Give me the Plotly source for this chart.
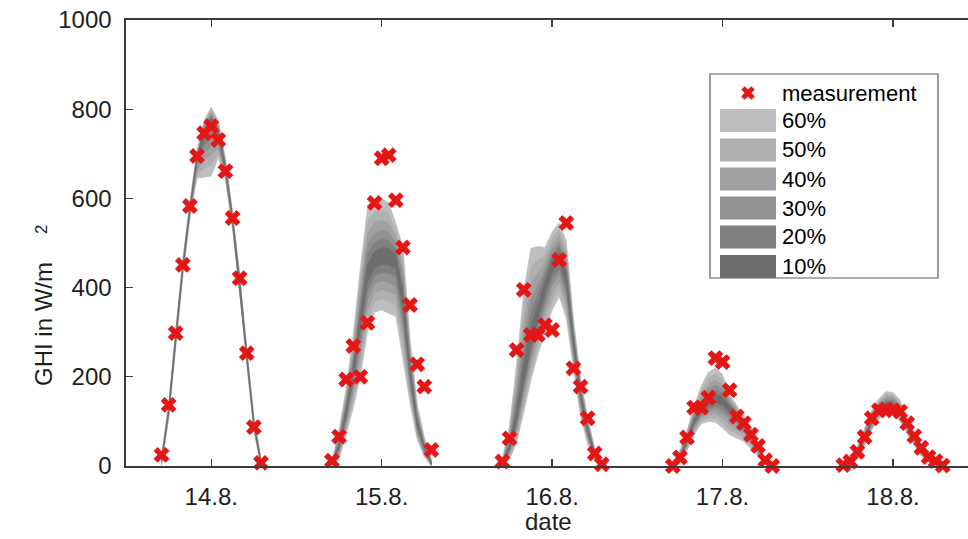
import plotly.graph_objects as go

# ---------------- data ----------------
# time axis: hours counted from 14.8. 00:00 (hourly values, daylight only)
hours = [5, 6, 7, 8, 9, 10, 11, 12, 13, 14, 15, 16, 17, 18, 19,
         29, 30, 31, 32, 33, 34, 35, 36, 37, 38, 39, 40, 41, 42, 43,
         53, 54, 55, 56, 57, 58, 59, 60, 61, 62, 63, 64, 65, 66, 67,
         77, 78, 79, 80, 81, 82, 83, 84, 85, 86, 87, 88, 89, 90, 91,
         101, 102, 103, 104, 105, 106, 107, 108, 109, 110, 111, 112, 113, 114, 115]

ghi_measured = [25, 137, 298, 451, 583, 695, 746, 762, 731, 661, 556, 421, 253, 87, 7,
                12, 66, 194, 269, 200, 321, 590, 690, 697, 596, 490, 361, 228, 178, 36,
                10, 62, 260, 395, 294, 294, 316, 305, 462, 545, 219, 178, 107, 28, 4,
                0, 19, 64, 131, 131, 153, 242, 233, 170, 111, 96, 70, 45, 13, 0,
                2, 10, 32, 65, 107, 125, 127, 125, 122, 96, 67, 41, 20, 11, 1]

# lower / upper bounds of the central prediction intervals
lo60 = [0, 105, 268, 426, 556, 645, 648, 650, 690, 640, 532, 394, 228, 78, 0,
        0, 15, 70, 130, 200, 300, 345, 350, 342, 335, 240, 140, 60, 20, 0,
        0, 15, 50, 120, 190, 250, 300, 350, 380, 330, 215, 110, 50, 10, 0,
        0, 8, 35, 70, 95, 100, 98, 85, 70, 62, 55, 40, 22, 5, 0,
        0, 3, 15, 45, 80, 105, 115, 115, 100, 72, 45, 22, 8, 2, 0]
lo50 = [2, 108, 272, 430, 560, 654, 668, 675, 702, 646, 536, 398, 232, 82, 2,
        1, 21, 80, 146, 224, 326, 368, 374, 368, 360, 266, 154, 67, 24, 1,
        1, 20, 62, 136, 208, 268, 320, 370, 398, 348, 228, 120, 56, 13, 1,
        0, 10, 39, 76, 101, 108, 108, 97, 82, 73, 63, 46, 26, 6, 0,
        0, 4, 18, 49, 84, 109, 120, 120, 104, 76, 48, 24, 9, 3, 0]
lo40 = [5, 111, 276, 434, 564, 662, 686, 698, 712, 651, 540, 402, 236, 85, 3,
        2, 26, 89, 160, 246, 349, 389, 396, 391, 383, 289, 167, 73, 28, 2,
        2, 25, 73, 150, 224, 284, 338, 388, 414, 364, 240, 129, 61, 16, 2,
        1, 13, 43, 81, 106, 115, 118, 108, 93, 82, 70, 51, 29, 8, 1,
        1, 6, 21, 53, 88, 113, 124, 124, 108, 79, 51, 26, 10, 3, 0]
lo30 = [7, 114, 279, 437, 567, 670, 703, 719, 722, 655, 543, 405, 239, 88, 4,
        2, 32, 98, 174, 266, 372, 408, 416, 412, 404, 312, 179, 79, 31, 3,
        3, 29, 83, 164, 240, 300, 355, 405, 430, 380, 251, 138, 67, 18, 3,
        1, 15, 46, 87, 112, 122, 127, 118, 103, 91, 77, 57, 32, 9, 1,
        1, 7, 23, 56, 91, 116, 128, 128, 111, 82, 53, 28, 11, 4, 1]
lo20 = [8, 117, 282, 440, 570, 676, 718, 738, 731, 660, 546, 408, 242, 91, 6,
        3, 36, 105, 186, 284, 391, 426, 434, 432, 423, 331, 189, 85, 34, 4,
        4, 33, 92, 176, 253, 313, 370, 420, 443, 393, 261, 145, 71, 21, 4,
        1, 16, 49, 91, 116, 128, 134, 127, 112, 99, 83, 61, 35, 10, 1,
        1, 8, 26, 59, 94, 119, 131, 131, 114, 85, 56, 29, 12, 4, 1]
lo10 = [10, 119, 285, 443, 573, 683, 733, 756, 739, 664, 549, 411, 245, 93, 7,
        3, 40, 113, 198, 302, 411, 443, 452, 451, 441, 351, 200, 90, 37, 5,
        4, 36, 101, 188, 267, 327, 385, 435, 457, 407, 270, 153, 76, 23, 4,
        2, 18, 52, 96, 121, 134, 142, 136, 121, 107, 89, 66, 37, 11, 2,
        2, 9, 28, 62, 97, 122, 135, 135, 117, 87, 58, 31, 13, 5, 1]
hi10 = [14, 124, 291, 448, 578, 693, 752, 780, 752, 671, 555, 416, 251, 98, 9,
        5, 50, 128, 223, 339, 452, 481, 490, 488, 473, 388, 221, 102, 44, 7,
        7, 48, 128, 229, 311, 363, 414, 461, 481, 433, 288, 166, 85, 27, 6,
        2, 22, 59, 105, 133, 151, 161, 154, 135, 118, 97, 73, 42, 12, 2,
        2, 11, 32, 68, 104, 129, 142, 142, 124, 93, 62, 33, 15, 5, 1]
hi20 = [15, 127, 293, 451, 581, 695, 756, 784, 756, 675, 557, 419, 253, 101, 10,
        6, 56, 137, 236, 358, 474, 501, 509, 506, 486, 406, 233, 109, 48, 9,
        8, 55, 146, 257, 342, 386, 427, 473, 493, 446, 295, 172, 89, 30, 7,
        3, 25, 63, 111, 142, 161, 171, 163, 139, 121, 100, 75, 44, 13, 2,
        3, 12, 35, 71, 108, 133, 147, 146, 128, 95, 64, 34, 16, 6, 2]
hi30 = [16, 129, 296, 453, 583, 698, 760, 789, 760, 678, 560, 421, 256, 103, 12,
        7, 61, 145, 248, 376, 497, 522, 529, 524, 498, 424, 244, 115, 51, 10,
        10, 63, 164, 286, 374, 408, 441, 484, 504, 458, 303, 178, 94, 32, 8,
        3, 27, 66, 116, 150, 172, 182, 172, 144, 124, 102, 78, 45, 13, 2,
        3, 14, 37, 74, 111, 136, 151, 150, 133, 98, 65, 36, 17, 6, 2]
hi40 = [18, 132, 299, 456, 586, 701, 765, 794, 765, 682, 563, 424, 259, 106, 13,
        8, 67, 154, 263, 398, 522, 546, 551, 544, 513, 444, 257, 123, 56, 12,
        11, 71, 184, 318, 409, 434, 456, 497, 517, 473, 311, 185, 99, 34, 9,
        4, 29, 71, 122, 159, 183, 193, 182, 149, 127, 104, 81, 47, 14, 3,
        4, 15, 39, 77, 116, 141, 156, 155, 137, 101, 67, 37, 18, 7, 2]
hi50 = [20, 135, 302, 459, 589, 704, 770, 799, 770, 686, 566, 427, 262, 109, 14,
        9, 73, 164, 278, 420, 548, 570, 574, 566, 528, 466, 270, 131, 60, 13,
        13, 80, 206, 352, 446, 462, 472, 510, 530, 488, 320, 192, 104, 37, 11,
        4, 32, 75, 128, 169, 196, 206, 193, 154, 131, 107, 84, 50, 14, 3,
        4, 16, 42, 81, 120, 145, 161, 160, 142, 104, 70, 38, 19, 7, 3]
hi60 = [22, 138, 305, 462, 592, 708, 775, 805, 775, 690, 570, 430, 265, 112, 16,
        10, 80, 175, 295, 445, 578, 598, 600, 590, 545, 490, 285, 140, 65, 15,
        15, 90, 230, 390, 488, 492, 490, 525, 545, 505, 330, 200, 110, 40, 12,
        5, 35, 80, 135, 180, 210, 220, 205, 160, 135, 110, 88, 52, 15, 3,
        5, 18, 45, 85, 125, 150, 167, 165, 148, 108, 72, 40, 20, 8, 3]

level_names = ["60%", "50%", "40%", "30%", "20%", "10%"]
date_tick_hours = [12, 36, 60, 84, 108]
date_tick_labels = ["14.8.", "15.8.", "16.8.", "17.8.", "18.8."]
y_ticks = [0, 200, 400, 600, 800, 1000]

# ---------------- style ----------------
FONT = "Liberation Sans, Arial, Helvetica, sans-serif"
level_colors = ["rgb(190,190,190)", "rgb(176,176,176)", "rgb(161,161,161)",
                "rgb(145,145,145)", "rgb(128,128,128)", "rgb(110,110,110)"]
RED = "rgb(228,22,22)"
AXIS = "rgb(60,60,60)"
TXT = "rgb(30,30,30)"
W, H = 968, 539
ML, MR, MT, MB = 126, 0, 20, 73
PW, PH = W - ML - MR, H - MT - MB


def px_x(px):
    """page pixel x -> paper coordinate"""
    return (px - ML) / PW


def px_y(py):
    """page pixel y -> paper coordinate"""
    return (H - MB - py) / PH


bands = [(lo60, hi60), (lo50, hi50), (lo40, hi40), (lo30, hi30), (lo20, hi20), (lo10, hi10)]

fig = go.Figure()

# split the series into daylight segments (a gap in hours starts a new day)
segments = []
start = 0
for i in range(1, len(hours) + 1):
    if i == len(hours) or hours[i] - hours[i - 1] > 1:
        segments.append((start, i))
        start = i

for (lo, hi), col in zip(bands, level_colors):
    for a, b in segments:
        xs = hours[a:b]
        fig.add_trace(go.Scatter(
            x=xs + xs[::-1], y=hi[a:b] + lo[a:b][::-1],
            mode="lines", fill="toself", fillcolor=col,
            line=dict(width=0.6, color=col),
            hoverinfo="skip", showlegend=False))

fig.add_trace(go.Scatter(
    x=hours, y=ghi_measured, mode="markers",
    marker=dict(symbol="x", size=14, color=RED, line=dict(width=0)),
    cliponaxis=False, showlegend=False, name="measurement"))

# ---------------- legend (drawn manually) ----------------
shapes = []
annotations = []
shapes.append(dict(type="rect", xref="paper", yref="paper",
                   x0=px_x(710), x1=px_x(938), y0=px_y(278), y1=px_y(74),
                   line=dict(color="rgb(90,90,90)", width=1.2),
                   fillcolor="rgba(0,0,0,0)", layer="above"))
row_centers = [120.5, 150, 179, 208, 237, 266.5]
for name, col, cy in zip(level_names, level_colors, row_centers):
    shapes.append(dict(type="rect", xref="paper", yref="paper",
                       x0=px_x(720), x1=px_x(776), y0=px_y(cy + 11.5), y1=px_y(cy - 11.5),
                       line=dict(width=0), fillcolor=col, layer="above"))
    annotations.append(dict(xref="paper", yref="paper", x=px_x(780), y=px_y(cy),
                            text=name, showarrow=False, xanchor="left", yanchor="middle",
                            font=dict(family=FONT, size=22, color="black")))
annotations.append(dict(xref="paper", yref="paper", x=px_x(780), y=px_y(93),
                        text="measurement", showarrow=False, xanchor="left", yanchor="middle",
                        font=dict(family=FONT, size=22, color="black")))
fig.add_trace(go.Scatter(x=[px_x(748)], y=[px_y(93)], xaxis="x2", yaxis="y2",
                         mode="markers", cliponaxis=False,
                         marker=dict(symbol="x", size=12, color=RED, line=dict(width=0)),
                         hoverinfo="skip", showlegend=False))

# axis titles
annotations.append(dict(xref="paper", yref="paper", x=px_x(548), y=px_y(521),
                        text="date", showarrow=False, xanchor="center", yanchor="middle",
                        font=dict(family=FONT, size=24, color=TXT)))
annotations.append(dict(xref="paper", yref="paper", x=px_x(43), y=px_y(324),
                        text="GHI in W/m", textangle=-90, showarrow=False,
                        xanchor="center", yanchor="middle",
                        font=dict(family=FONT, size=24, color=TXT)))
annotations.append(dict(xref="paper", yref="paper", x=px_x(41), y=px_y(230),
                        text="2", textangle=-90, showarrow=False,
                        xanchor="center", yanchor="middle",
                        font=dict(family=FONT, size=17, color=TXT)))

fig.update_layout(
    width=W, height=H,
    margin=dict(l=ML, r=MR, t=MT, b=MB, pad=0),
    paper_bgcolor="white", plot_bgcolor="white",
    showlegend=False,
    hovermode=False,
    font=dict(family=FONT, size=24, color=TXT),
    xaxis=dict(range=[0, 118.56], tickvals=date_tick_hours, ticktext=date_tick_labels,
               ticks="inside", ticklen=7, tickwidth=1.3, tickcolor=AXIS,
               showline=True, linecolor=AXIS, linewidth=1.6, mirror="ticks",
               showgrid=False, zeroline=False, ticklabelstandoff=9,
               tickfont=dict(family=FONT, size=24, color=TXT)),
    yaxis=dict(range=[0, 1000], tickvals=y_ticks,
               ticks="inside", ticklen=7, tickwidth=1.3, tickcolor=AXIS,
               showline=True, linecolor=AXIS, linewidth=1.6,
               showgrid=False, zeroline=False, ticklabelstandoff=8,
               tickfont=dict(family=FONT, size=24, color=TXT)),
    xaxis2=dict(overlaying="x", range=[0, 1], visible=False),
    yaxis2=dict(overlaying="y", range=[0, 1], visible=False),
    shapes=shapes,
    annotations=annotations,
)

# remove the default 8px body margin so the figure fills the window exactly
fig.write_html("out.html",
               config={"displayModeBar": False, "staticPlot": True},
               post_script="document.body.style.margin='0';"
                           "document.body.style.overflow='hidden';")
